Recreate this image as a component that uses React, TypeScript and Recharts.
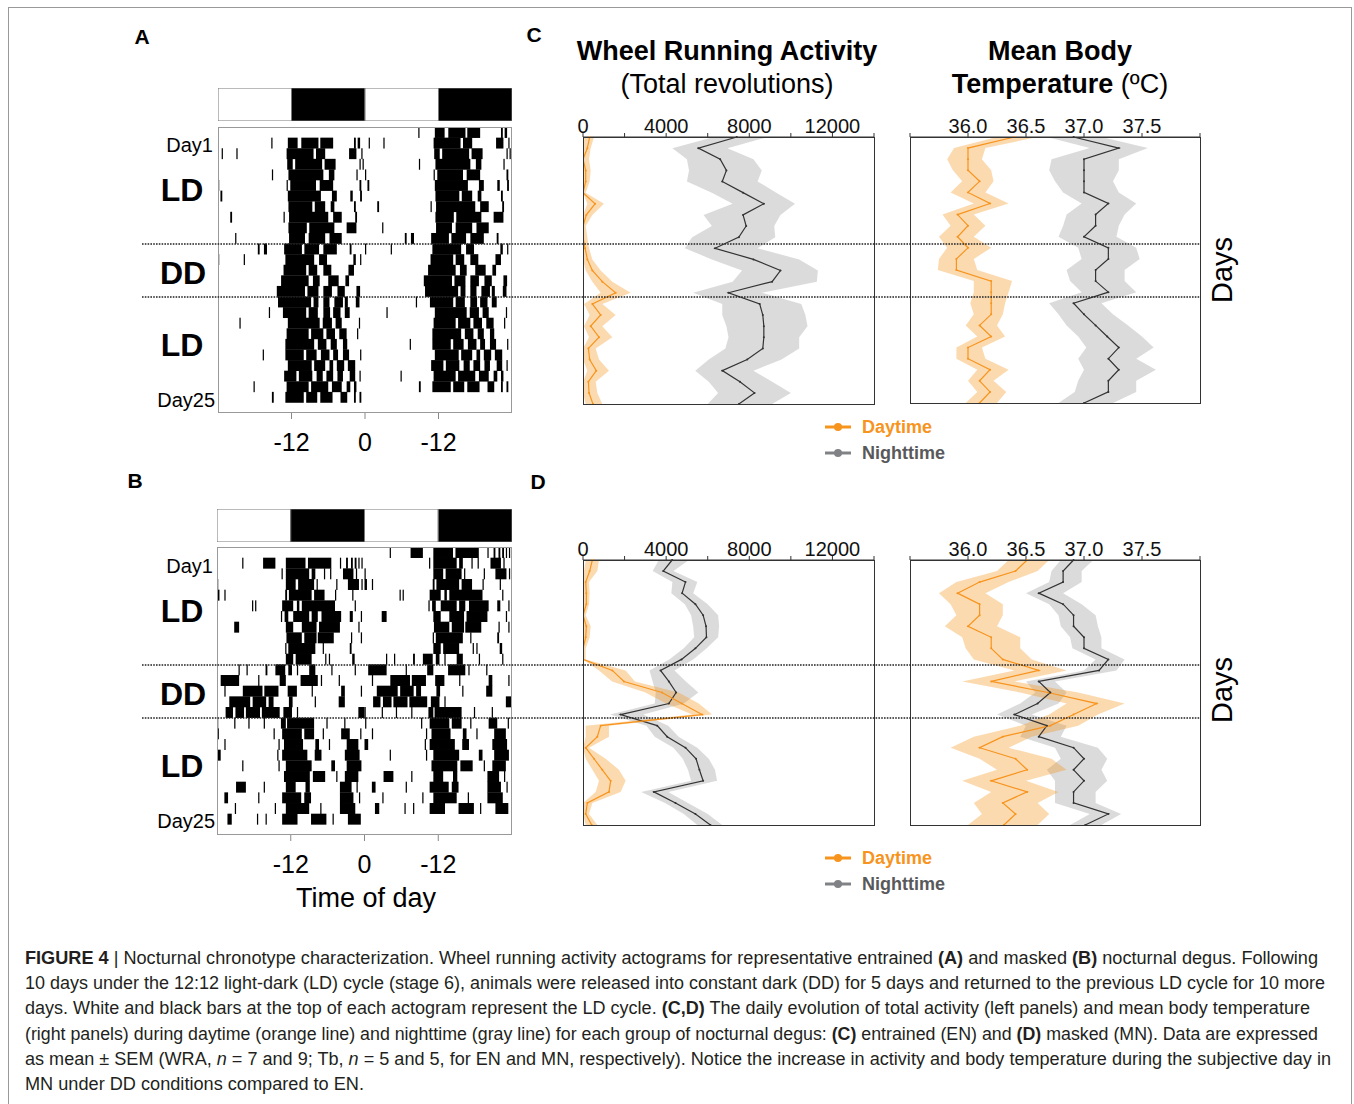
import React from 'react';
import { BarChart, Bar, ComposedChart, Area, Line, XAxis, YAxis } from 'recharts';

const FONT = '"Liberation Sans", Arial, Helvetica, sans-serif';

// days shown on the activity / temperature panels
const days = [1, 2, 3, 4, 5, 6, 7, 8, 9, 10, 11, 12, 13, 14, 15, 16, 17, 18, 19, 20, 21, 22, 23, 24, 25];

// C - entrained (EN), wheel running activity
const enWraDay = [320, 210, 0, 130, 130, 0, 580, 160, 0, 0, 100, 210, 450, 930, 1570, 450, 850, 370, 770, 260, 320, 640, 260, 290, 480];
const enWraDayLo = [50, 0, 0, 0, 0, 0, 210, 0, 0, 0, 0, 0, 130, 450, 850, 50, 320, 50, 290, 0, 0, 210, 0, 0, 130];
const enWraDayHi = [530, 370, 290, 370, 320, 130, 1010, 450, 130, 210, 290, 450, 850, 1410, 2290, 930, 1570, 930, 1410, 610, 770, 1250, 610, 690, 930];
const enWraNight = [7400, 5550, 6600, 6900, 6700, 7700, 8700, 7700, 7850, 7500, 6350, 8200, 9500, 9100, 7000, 8500, 8650, 8700, 8700, 8650, 7900, 6700, 7550, 8250, 7500];
const enWraNightLo = [6300, 4300, 5000, 5100, 5000, 6200, 7200, 5800, 6200, 5250, 4900, 6200, 7650, 7200, 5300, 6700, 6700, 6900, 7000, 6850, 6050, 5400, 6050, 6500, 6000];
const enWraNightHi = [8900, 6950, 8200, 8600, 8400, 9300, 10200, 9500, 9200, 9250, 8400, 10400, 11300, 11250, 8600, 10500, 10700, 10800, 10400, 10400, 9550, 8200, 9100, 10000, 9100];

// C - entrained (EN), body temperature
const enTbDay = [36.4, 36.0, 36.0, 36.0, 36.1, 36.0, 36.19, 35.91, 36.0, 35.91, 36.0, 35.9, 35.9, 36.2, 36.2, 36.2, 36.2, 36.1, 36.2, 36.0, 36.0, 36.19, 36.1, 36.19, 36.1];
const enTbDayLo = [36.25, 35.88, 35.82, 35.87, 35.95, 35.85, 36.05, 35.78, 35.85, 35.75, 35.82, 35.75, 35.74, 36.05, 36.05, 36.02, 36.05, 35.98, 36.08, 35.9, 35.9, 36.08, 36.0, 36.08, 35.98];
const enTbDayHi = [36.6, 36.15, 36.12, 36.2, 36.22, 36.15, 36.35, 36.05, 36.15, 36.05, 36.2, 36.05, 36.08, 36.38, 36.35, 36.32, 36.3, 36.25, 36.32, 36.12, 36.15, 36.35, 36.22, 36.33, 36.25];
const enTbNight = [36.91, 37.3, 37.0, 37.0, 37.0, 37.0, 37.21, 37.1, 37.1, 37.0, 37.21, 37.21, 37.1, 37.1, 37.21, 36.91, 37.0, 37.1, 37.2, 37.3, 37.21, 37.3, 37.21, 37.21, 37.0];
const enTbNightLo = [36.68, 37.05, 36.72, 36.7, 36.75, 36.82, 36.98, 36.85, 36.82, 36.78, 36.95, 36.98, 36.85, 36.88, 36.98, 36.7, 36.78, 36.85, 36.95, 37.02, 36.95, 37.0, 36.95, 36.92, 36.78];
const enTbNightHi = [37.15, 37.55, 37.3, 37.3, 37.25, 37.3, 37.45, 37.35, 37.3, 37.28, 37.45, 37.48, 37.35, 37.35, 37.45, 37.15, 37.25, 37.38, 37.5, 37.6, 37.45, 37.62, 37.45, 37.45, 37.25];

// D - masked (MN), wheel running activity
const mnWraDay = [450, 320, 130, 160, 160, 0, 160, 130, 0, 0, 1410, 1970, 3800, 4750, 5730, 850, 690, 130, 530, 930, 1330, 1250, 210, 130, 420];
const mnWraDayLo = [130, 50, 0, 0, 0, 0, 0, 0, 0, 0, 770, 1400, 3000, 4000, 5250, 130, 130, 0, 130, 450, 770, 610, 0, 0, 130];
const mnWraDayHi = [770, 690, 290, 320, 290, 130, 370, 320, 130, 130, 2050, 2500, 4600, 5570, 6210, 1250, 1250, 290, 1090, 1730, 2050, 1810, 450, 290, 690];
const mnWraNight = [4290, 3860, 4930, 4770, 5410, 5780, 5920, 5940, 5410, 4740, 3730, 4130, 4480, 4130, 1810, 3570, 4050, 4930, 5440, 5600, 5780, 3410, 4450, 5410, 6130];
const mnWraNightLo = [3650, 3350, 4300, 4250, 4900, 5200, 5300, 5350, 4850, 4150, 3200, 3350, 3500, 3450, 1300, 3050, 3450, 4350, 4800, 5050, 5200, 2800, 3950, 4850, 5500];
const mnWraNightHi = [5100, 4350, 5500, 5300, 6000, 6500, 6550, 6500, 5950, 5300, 4400, 4950, 5550, 4850, 2900, 4100, 4600, 5500, 6050, 6350, 6450, 4100, 5050, 6000, 6700];

// D - masked (MN), body temperature
const mnTbDay = [36.51, 36.41, 36.1, 35.91, 36.1, 36.1, 36.0, 36.2, 36.2, 36.3, 36.61, 36.2, 36.69, 37.11, 36.91, 36.71, 36.3, 36.1, 36.41, 36.51, 36.2, 36.51, 36.3, 36.41, 36.31];
const mnTbDayLo = [36.35, 36.25, 35.9, 35.75, 35.85, 35.9, 35.8, 35.95, 35.98, 36.05, 36.4, 35.95, 36.45, 36.85, 36.7, 36.45, 36.05, 35.85, 36.1, 36.25, 35.95, 36.2, 36.05, 36.12, 36.0];
const mnTbDayHi = [36.7, 36.6, 36.35, 36.15, 36.3, 36.3, 36.25, 36.45, 36.45, 36.55, 36.85, 36.4, 36.95, 37.35, 37.12, 36.95, 36.55, 36.35, 36.72, 36.85, 36.5, 36.78, 36.6, 36.7, 36.6];
const mnTbNight = [36.91, 36.82, 36.82, 36.61, 36.82, 36.91, 36.91, 37.0, 37.0, 37.21, 37.13, 36.61, 36.71, 36.6, 36.4, 36.68, 36.61, 36.91, 37.0, 36.91, 37.0, 36.91, 36.91, 37.21, 37.01];
const mnTbNightLo = [36.8, 36.72, 36.7, 36.5, 36.7, 36.78, 36.8, 36.88, 36.9, 37.1, 37.0, 36.5, 36.58, 36.45, 36.25, 36.5, 36.45, 36.75, 36.8, 36.68, 36.75, 36.75, 36.75, 37.05, 36.88];
const mnTbNightHi = [37.08, 36.98, 36.98, 36.82, 36.98, 37.1, 37.12, 37.15, 37.15, 37.35, 37.28, 36.75, 36.85, 36.78, 36.55, 36.85, 36.8, 37.12, 37.2, 37.15, 37.2, 37.1, 37.1, 37.32, 37.15];

// axis ticks
const wraTicks = [0, 2000, 4000, 6000, 8000, 10000, 12000, 14000];
const wraLabels = [0, 4000, 8000, 12000];
const tbTicks = [35.5, 36.0, 36.5, 37.0, 37.5, 38.0];
const tbLabels = [36.0, 36.5, 37.0, 37.5];

// light-dark cycle bar (hours) and actogram ticks
const ldHours = [12, 12, 12, 12];
const ldColors = ['#fff', '#000', '#fff', '#000'];
const actoTicks = [12, 24, 36];
const actoTickLabels = ['-12', '0', '-12'];

// actogram bouts per day, hours relative to lights-on (-24..0)
const actoA = [
  [[-15.3, -15.1], [-12.6, -11.0], [-10.4, -7.6], [-7.3, -5.2], [-1.8, -1.5], [-1.2, -0.8]],
  [[-23.4, -23.2], [-21, -20.8], [-12.8, -8.4], [-8.0, -6.5], [-2.6, -1.4], [-0.6, -0.4]],
  [[-12.7, -11.8], [-11.4, -7.0], [-6.6, -4.8], [-0.9, -0.7], [-0.4, -0.2]],
  [[-15.2, -15.0], [-12.5, -6.8], [-5.9, -5.0], [-1.4, -1.2]],
  [[-24, -23.8], [-12.8, -12.6], [-12.2, -8.0], [-7.4, -5.2], [-0.9, -0.6]],
  [[-23.6, -23.3], [-12.6, -7.2], [-5.4, -4.6], [-2.4, -2.0], [-0.8, -0.5]],
  [[-12.5, -8.6], [-8.2, -6.5], [-5.6, -5.0], [-1.8, -1.5]],
  [[-22.0, -21.7], [-13.3, -13.1], [-12.4, -6.0], [-5.2, -3.8], [-1.6, -1.3]],
  [[-12.5, -9.5], [-9.1, -5.0], [-3.0, -1.4]],
  [[-21.2, -21.0], [-12.4, -9.8], [-9.2, -6.5], [-5.8, -3.8]],
  [[-17.5, -17.2], [-16.5, -16.0], [-13.2, -10.3], [-9.9, -7.5], [-6.8, -4.6], [-2.5, -2.2]],
  [[-24, -23.8], [-19.8, -19.6], [-13.0, -8.3], [-7.5, -6.2], [-1.9, -1.5], [-0.8, -0.6]],
  [[-13.3, -9.6], [-9.2, -7.8], [-6.8, -5.5], [-2.7, -1.8]],
  [[-13.7, -9.2], [-8.5, -7.4], [-6, -4.3], [-3.2, -2.6]],
  [[-14.4, -9.8], [-9.4, -7.6], [-6.8, -5.4], [-4.5, -3.3], [-1.4, -0.8]],
  [[-14.2, -8.8], [-8.4, -7.6], [-6.8, -5.8], [-5.0, -3.6], [-3.3, -2.8], [-1.5, -0.9]],
  [[-15.7, -15.5], [-13.4, -9.6], [-9.2, -7.7], [-6.8, -5.7], [-5.2, -4.0], [-3.3, -2.5]],
  [[-20.5, -20.3], [-12.6, -7.4], [-6.9, -5.4], [-4.8, -3.8], [-1.0, -0.8]],
  [[-12.8, -9.2], [-8.8, -6.8], [-6.3, -4.9], [-4.2, -3.0], [-1.3, -1.1]],
  [[-13.0, -8.3], [-7.7, -6.3], [-5.6, -4.6], [-3.6, -2.9]],
  [[-16.7, -16.5], [-13.0, -10.0], [-9.6, -7.9], [-7.2, -5.8], [-5.2, -4.4], [-3.6, -2.6], [-0.8, -0.6]],
  [[-12.6, -8.7], [-8.3, -6.5], [-5.8, -5.2], [-4.6, -3.4], [-2.8, -1.6]],
  [[-13.2, -11.2], [-10.8, -8.6], [-7.9, -6.9], [-6.3, -5.2], [-4.5, -3.6], [-2.5, -1.6], [-0.9, -0.7]],
  [[-18.2, -18.0], [-12.8, -9.2], [-8.8, -6.0], [-5.4, -3.8], [-3.0, -2.4], [-1.8, -1.4]],
  [[-15.2, -14.9], [-13.0, -10.0], [-9.6, -7.8], [-7.3, -5.3], [-4.0, -2.9], [-1.8, -1.5], [-0.9, -0.6]],
];

const actoB = [
  [[-19.9, -19.7], [-16.5, -14.5], [-12.8, -9.6], [-9.2, -5.4], [-4.0, -3.8], [-3.0, -2.7], [-2.2, -1.9], [-1.6, -1.3], [-1.0, -0.8], [-0.5, -0.3]],
  [[-13.5, -13.3], [-12.8, -9.0], [-8.6, -8.0], [-6.6, -6.4], [-5.6, -5.4], [-3.5, -1.8], [-1.4, -1.2]],
  [[-24.0, -23.8], [-12.8, -11.2], [-10.8, -8.2], [-7.8, -7.6], [-4.6, -4.4], [-2.7, -0.9], [-0.5, -0.3]],
  [[-24.0, -23.6], [-22.8, -22.6], [-12.9, -12.6], [-12.3, -8.6], [-8.2, -6.5], [-4.8, -4.6], [-2.0, -1.8]],
  [[-18.3, -18.1], [-17.8, -17.6], [-13.4, -11.6], [-11.0, -10.6], [-10.2, -4.8], [-1.6, -1.4]],
  [[-13.6, -13.4], [-13.0, -12.4], [-11.6, -9.0], [-8.6, -7.6], [-7.0, -3.8], [-2.4, -1.9], [-0.6, -0.4]],
  [[-21.2, -20.4], [-12.8, -11.6], [-10.2, -7.8], [-7.4, -4.0], [-1.0, -0.8]],
  [[-12.7, -10.2], [-9.8, -7.8], [-7.6, -5.0], [-2.2, -2.0], [-0.6, -0.4]],
  [[-12.9, -12.7], [-12.4, -8.0], [-6.8, -6.6], [-2.4, -2.1]],
  [[-12.8, -11.6], [-11.2, -8.6], [-6.4, -6.2], [-5.8, -5.6], [-2.0, -1.6]],
  [[-20.5, -20.3], [-19.2, -19.0], [-16.1, -15.8], [-14.5, -12.9], [-12.4, -11.8], [-11.0, -10.8], [-9.0, -8.0], [-5.4, -5.2], [-1.6, -1.4]],
  [[-23.4, -20.4], [-17.3, -17.1], [-13.8, -12.8], [-10.4, -7.6], [-7.1, -6.9], [-4.2, -4.0]],
  [[-22.8, -22.6], [-19.8, -16.6], [-16.3, -14.0], [-12.5, -11.0], [-8.6, -8.4], [-3.8, -3.2], [-0.6, -0.4]],
  [[-22.0, -18.6], [-18.2, -16.0], [-15.6, -14.8], [-12.3, -11.7], [-8.1, -7.9], [-4.2, -3.2]],
  [[-22.6, -21.4], [-21.0, -19.6], [-19.3, -17.0], [-16.7, -13.8], [-13.2, -11.8], [-11.0, -10.8], [-1.0, 0]],
  [[-24.0, -23.8], [-21.2, -21.0], [-18.9, -18.7], [-16.4, -16.2], [-13.6, -12.8], [-12.6, -8.2], [-6.2, -6.0], [-3.3, -3.1]],
  [[-23.9, -23.7], [-14.8, -14.6], [-13.4, -10.2], [-9.8, -8.2], [-6.8, -6.6], [-3.8, -2.4], [-0.7, -0.5]],
  [[-22.8, -22.6], [-14.0, -13.8], [-13.1, -10.0], [-8.0, -7.4], [-5.8, -5.6], [-2.9, -1.0]],
  [[-24.0, -23.4], [-14.2, -14.0], [-13.4, -9.3], [-8.1, -7.0], [-3.2, -0.8]],
  [[-19.9, -19.7], [-14.0, -13.8], [-12.8, -8.6], [-5.4, -4.8], [-2.9, -0.5]],
  [[-13.1, -8.9], [-8.4, -6.4], [-4.6, -4.4], [-3.2, -1.0]],
  [[-20.9, -19.3], [-16.4, -16.2], [-12.8, -11.2], [-9.6, -8.9], [-4.0, -2.1], [-1.3, -1.1]],
  [[-22.8, -22.2], [-17.3, -17.1], [-13.4, -10.3], [-9.8, -8.7], [-4.0, -1.8], [-0.9, -0.7]],
  [[-21.1, -20.9], [-14.6, -14.4], [-12.8, -9.0], [-7.2, -7.0], [-4.0, -1.5]],
  [[-22.3, -21.6], [-17.5, -17.3], [-16.1, -15.9], [-13.4, -10.9], [-8.7, -6.2], [-5.2, -5.0], [-2.7, -0.6]],
];

// double-plotted rows: row r shows day r on the left and day r+1 on the right
const ACTO_ROWS = 27;
function actogramRows(bouts: number[][][]) {
  const rows: any[] = [];
  let maxSegs = 0;
  for (let r = 0; r < ACTO_ROWS; r++) {
    const left = r >= 1 && r <= bouts.length ? bouts[r - 1] : [];
    const right = r < bouts.length ? bouts[r] : [];
    const marks = [
      ...left.map(([a, b]) => [a + 24, b + 24]),
      ...right.map(([a, b]) => [a + 48, b + 48]),
    ];
    const row: any = { row: r };
    let pos = 0;
    let k = 0;
    for (const [a, b] of marks) {
      const s = Math.max(a, pos);
      row[`s${k++}`] = s - pos;
      row[`s${k++}`] = Math.max(0, b - s);
      pos = Math.max(pos, b);
    }
    maxSegs = Math.max(maxSegs, k);
    rows.push(row);
  }
  return { rows, maxSegs };
}

function traceRows(day: number[], dayLo: number[], dayHi: number[], night: number[], nightLo: number[], nightHi: number[]) {
  return days.map((d, i) => ({
    day: d,
    dayMean: day[i],
    dayBand: [dayLo[i], dayHi[i]],
    nightMean: night[i],
    nightBand: [nightLo[i], nightHi[i]],
  }));
}

function Txt({ x, y, size, bold, color = '#000', anchor = 'middle', rotate, children }: any) {
  const tx = anchor === 'middle' ? '-50%' : anchor === 'end' ? '-100%' : '0';
  return (
    <div
      style={{
        position: 'absolute',
        left: x,
        top: y,
        transform: `translate(${tx},-50%)${rotate ? ` rotate(${rotate}deg)` : ''}`,
        fontFamily: FONT,
        fontSize: size,
        fontWeight: bold ? 700 : 400,
        color,
        lineHeight: 1,
        whiteSpace: 'nowrap',
      }}
    >
      {children}
    </div>
  );
}

function LdBar({ x, y, w }: any) {
  const row: any = { id: 'ld' };
  ldHours.forEach((h, i) => (row[`h${i}`] = h));
  return (
    <div style={{ position: 'absolute', left: x, top: y }}>
      <BarChart layout="vertical" width={w} height={33} data={[row]} margin={{ top: 0, right: 0, bottom: 0, left: 0 }} barCategoryGap={0}>
        <XAxis type="number" domain={[0, 48]} hide />
        <YAxis type="category" dataKey="id" hide />
        {ldHours.map((_, i) => (
          <Bar key={i} dataKey={`h${i}`} stackId="ld" fill={ldColors[i]} stroke="#777" strokeWidth={1} isAnimationActive={false} />
        ))}
      </BarChart>
    </div>
  );
}

function Actogram({ x, y, w, h, bouts }: any) {
  const { rows, maxSegs } = actogramRows(bouts);
  const rowH = h / ACTO_ROWS + 0.3;
  // each bout fills the whole row height so consecutive days touch
  const boutShape = (p: any) =>
    p.width > 0 ? <rect x={p.x} y={p.y + p.height / 2 - rowH / 2} width={p.width} height={rowH} fill="#000" /> : <g />;
  return (
    <>
      <div style={{ position: 'absolute', left: x, top: y }}>
        <BarChart layout="vertical" width={w} height={h + 45} data={rows} margin={{ top: 0, right: 0, bottom: 0, left: 0 }} barCategoryGap={0}>
          <XAxis
            type="number"
            domain={[0, 48]}
            ticks={actoTicks}
            interval={0}
            tickFormatter={(v: number) => actoTickLabels[actoTicks.indexOf(v)]}
            axisLine={false}
            tickLine={{ stroke: '#888' }}
            tickSize={6}
            tickMargin={14}
            height={45}
            tick={{ fontSize: 25, fill: '#000', fontFamily: FONT }}
            allowDataOverflow
          />
          <YAxis type="category" dataKey="row" hide />
          {Array.from({ length: maxSegs }, (_, k) =>
            k % 2 ? (
              <Bar key={k} dataKey={`s${k}`} stackId="a" fill="#000" shape={boutShape} isAnimationActive={false} />
            ) : (
              <Bar key={k} dataKey={`s${k}`} stackId="a" fill="transparent" shape={() => <g />} isAnimationActive={false} />
            )
          )}
        </BarChart>
      </div>
      <div style={{ position: 'absolute', left: x, top: y, width: w, height: h, border: '1px solid #999', boxSizing: 'border-box' }} />
    </>
  );
}

const PAD = 16;

function TraceChart({ x, y, w, h, data, domain, ticks, labels }: any) {
  const fmt = (v: number) => (labels.includes(v) ? (domain[1] > 100 ? String(v) : v.toFixed(1)) : '');
  return (
    <>
      <div style={{ position: 'absolute', left: x - PAD, top: y - 30 }}>
        <ComposedChart layout="vertical" width={w + 2 * PAD} height={h + 30} data={data} margin={{ top: 0, right: PAD, bottom: 0, left: PAD }}>
          <XAxis
            type="number"
            orientation="top"
            domain={domain}
            ticks={ticks}
            interval={0}
            tickFormatter={fmt}
            height={30}
            tickSize={4}
            tickMargin={0}
            stroke="#333"
            tick={{ fontSize: 20, fill: '#111', fontFamily: FONT }}
            allowDataOverflow
          />
          <YAxis type="number" dataKey="day" domain={[1, 25]} hide />
          <Area type="linear" dataKey="nightBand" fill="#9a9a9a" fillOpacity={0.36} stroke="none" isAnimationActive={false} />
          <Area type="linear" dataKey="dayBand" fill="#f7941d" fillOpacity={0.35} stroke="none" isAnimationActive={false} />
          <Line type="linear" dataKey="nightMean" stroke="#333" strokeWidth={1.2} dot={{ r: 1, fill: '#333', stroke: 'none' }} isAnimationActive={false} />
          <Line type="linear" dataKey="dayMean" stroke="#f7941d" strokeWidth={1.2} dot={{ r: 1, fill: '#f7941d', stroke: 'none' }} isAnimationActive={false} />
        </ComposedChart>
      </div>
      <div style={{ position: 'absolute', left: x, top: y, width: w + 1, height: h + 1, border: '1px solid #333', boxSizing: 'border-box' }} />
    </>
  );
}

function LegendRow({ x, y, color, textColor, label }: any) {
  return (
    <div style={{ position: 'absolute', left: x, top: y - 10, height: 20, display: 'flex', alignItems: 'center' }}>
      <svg width={26} height={12}>
        <line x1={0} y1={6} x2={26} y2={6} stroke={color} strokeWidth={3} />
        <circle cx={13} cy={6} r={4} fill={color} />
      </svg>
      <span style={{ marginLeft: 11, fontFamily: FONT, fontWeight: 700, fontSize: 18, color: textColor }}>{label}</span>
    </div>
  );
}

function ActogramLabels({ top }: any) {
  return (
    <>
      <Txt x={213} y={top + 18} size={20} anchor="end">Day1</Txt>
      <Txt x={182} y={top + 63} size={32} bold>LD</Txt>
      <Txt x={183} y={top + 146} size={32} bold>DD</Txt>
      <Txt x={182} y={top + 218} size={32} bold>LD</Txt>
      <Txt x={215} y={top + 273} size={20} anchor="end">Day25</Txt>
    </>
  );
}

const captionLines = [
  { w: 1293, parts: [['b', 'FIGURE 4'], ['', ' | Nocturnal chronotype characterization. Wheel running activity actograms for representative entrained '], ['b', '(A)'], ['', ' and masked '], ['b', '(B)'], ['', ' nocturnal degus. Following']] },
  { w: 1300, parts: [['', '10 days under the 12:12 light-dark (LD) cycle (stage 6), animals were released into constant dark (DD) for 5 days and returned to the previous LD cycle for 10 more']] },
  { w: 1285, parts: [['', 'days. White and black bars at the top of each actogram represent the LD cycle. '], ['b', '(C,D)'], ['', ' The daily evolution of total activity (left panels) and mean body temperature']] },
  { w: 1293, parts: [['', '(right panels) during daytime (orange line) and nighttime (gray line) for each group of nocturnal degus: '], ['b', '(C)'], ['', ' entrained (EN) and '], ['b', '(D)'], ['', ' masked (MN). Data are expressed']] },
  { w: 1306, parts: [['', 'as mean \u00b1 SEM (WRA, '], ['i', 'n'], ['', ' = 7 and 9; Tb, '], ['i', 'n'], ['', ' = 5 and 5, for EN and MN, respectively). Notice the increase in activity and body temperature during the subjective day in']] },
  { w: 339, parts: [['', 'MN under DD conditions compared to EN.']] },
];

export default function App() {
  const enWra = traceRows(enWraDay, enWraDayLo, enWraDayHi, enWraNight, enWraNightLo, enWraNightHi);
  const enTb = traceRows(enTbDay, enTbDayLo, enTbDayHi, enTbNight, enTbNightLo, enTbNightHi);
  const mnWra = traceRows(mnWraDay, mnWraDayLo, mnWraDayHi, mnWraNight, mnWraNightLo, mnWraNightHi);
  const mnTb = traceRows(mnTbDay, mnTbDayLo, mnTbDayHi, mnTbNight, mnTbNightLo, mnTbNightHi);

  return (
    <div style={{ position: 'absolute', left: 0, top: 0, width: 1354, height: 1104, overflow: 'hidden', background: '#fff' }}>
      <div style={{ position: 'absolute', left: 8, top: 7, width: 1344, height: 1200, border: '1px solid #999', boxSizing: 'border-box' }} />

      {/* panel letters */}
      <Txt x={142} y={36} size={21} bold>A</Txt>
      <Txt x={534} y={34} size={21} bold>C</Txt>
      <Txt x={135} y={480} size={21} bold>B</Txt>
      <Txt x={538} y={481} size={21} bold>D</Txt>

      {/* titles */}
      <Txt x={727} y={51} size={27} bold>Wheel Running Activity</Txt>
      <Txt x={727} y={84} size={27}>(Total revolutions)</Txt>
      <Txt x={1060} y={51} size={27} bold>Mean Body</Txt>
      <Txt x={1060} y={84} size={27}><b>Temperature</b> (ºC)</Txt>

      {/* actograms */}
      <LdBar x={218} y={88} w={294} />
      <Actogram x={218} y={127} w={294} h={286} bouts={actoA} />
      <ActogramLabels top={127} />
      <LdBar x={217} y={509} w={295} />
      <Actogram x={217} y={547} w={295} h={288} bouts={actoB} />
      <ActogramLabels top={548} />
      <Txt x={366} y={898} size={27}>Time of day</Txt>

      {/* daily traces */}
      <TraceChart x={583} y={137} w={291} h={267} data={enWra} domain={[0, 14000]} ticks={wraTicks} labels={wraLabels} />
      <TraceChart x={910} y={137} w={290} h={266} data={enTb} domain={[35.5, 38]} ticks={tbTicks} labels={tbLabels} />
      <TraceChart x={583} y={560} w={291} h={265} data={mnWra} domain={[0, 14000]} ticks={wraTicks} labels={wraLabels} />
      <TraceChart x={910} y={560} w={290} h={265} data={mnTb} domain={[35.5, 38]} ticks={tbTicks} labels={tbLabels} />

      <Txt x={1222} y={270} size={29} rotate={-90}>Days</Txt>
      <Txt x={1222} y={690} size={29} rotate={-90}>Days</Txt>

      <LegendRow x={825} y={427} color="#f7941d" textColor="#f7941d" label="Daytime" />
      <LegendRow x={825} y={453} color="#808285" textColor="#58595b" label="Nighttime" />
      <LegendRow x={825} y={858} color="#f7941d" textColor="#f7941d" label="Daytime" />
      <LegendRow x={825} y={884} color="#808285" textColor="#58595b" label="Nighttime" />

      {/* stage separators and caption */}
      <svg width={1354} height={1104} style={{ position: 'absolute', left: 0, top: 0, pointerEvents: 'none' }}>
        {[244, 297, 665, 718].map((yy) => (
          <line key={yy} x1={142} x2={1200} y1={yy} y2={yy} stroke="#222" strokeWidth={1.6} strokeDasharray="1.6 1.2" />
        ))}
        {captionLines.map((ln, i) => (
          <text key={i} x={25} y={964 + i * 25.2} fontFamily={FONT} fontSize={17.5} fill="#231f20" textLength={ln.w} lengthAdjust="spacingAndGlyphs">
            {ln.parts.map(([s, t], j) => (
              <tspan key={j} fontWeight={s === 'b' ? 700 : 400} fontStyle={s === 'i' ? 'italic' : 'normal'}>{t}</tspan>
            ))}
          </text>
        ))}
      </svg>
    </div>
  );
}
